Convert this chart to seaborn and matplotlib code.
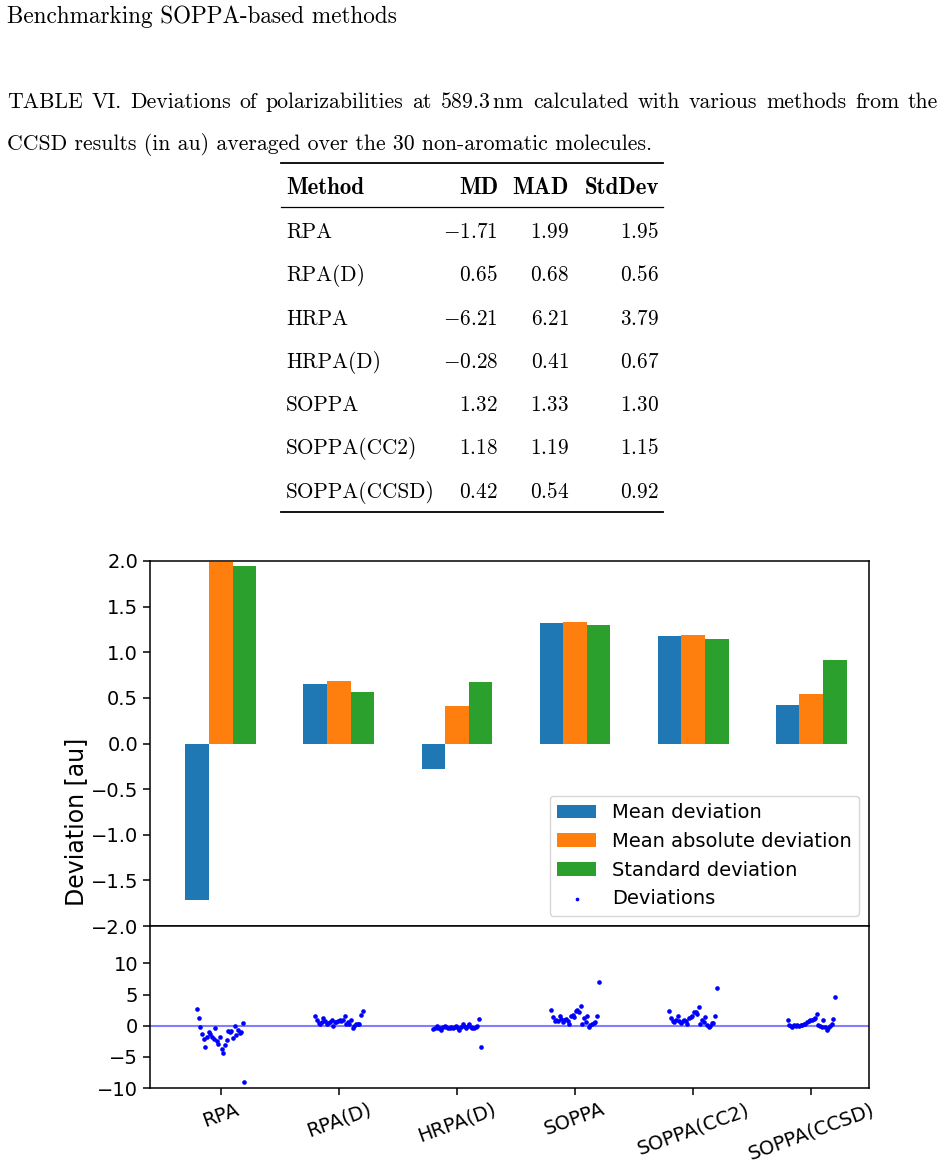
import matplotlib
matplotlib.use("Agg")
import matplotlib.pyplot as plt
from matplotlib.lines import Line2D
import numpy as np
import pandas as pd
import seaborn as sns

# table values (au)
table_methods = ["RPA", "RPA(D)", "HRPA", "HRPA(D)", "SOPPA", "SOPPA(CC2)", "SOPPA(CCSD)"]
md = [-1.71, 0.65, -6.21, -0.28, 1.32, 1.18, 0.42]
mad = [1.99, 0.68, 6.21, 0.41, 1.33, 1.19, 0.54]
std = [1.95, 0.56, 3.79, 0.67, 1.30, 1.15, 0.92]

# methods shown in the chart (HRPA left out)
methods = ["RPA", "RPA(D)", "HRPA(D)", "SOPPA", "SOPPA(CC2)", "SOPPA(CCSD)"]
stat_names = ["Mean deviation", "Mean absolute deviation", "Standard deviation"]

# per-molecule deviations
dev_rpa = [2.63, 1.18, -0.27, -1.40, -2.15, -3.44, -1.88, -0.97, -1.40, -1.88,
           -2.10, -0.43, -2.53, -3.01, -1.88, -3.76, -4.46, -3.17, -2.37, -0.81,
           -0.97, -0.81, -2.04, -0.11, -1.56, -0.70, -1.18, -1.08, 0.43, -8.98]
dev_rpad = [1.61, 0.86, 0.43, 0.32, 0.54, 1.29, 0.70, 0.32, 0.43, 0.65,
            0.86, 0.00, 0.65, 0.54, 0.81, 0.91, 0.81, 0.97, 1.51, 0.32,
            0.65, 0.32, 0.97, -0.32, -0.11, 0.32, 0.22, 0.22, 1.72, 2.37]
dev_hrpad = [-0.54, -0.32, -0.11, -0.32, -0.43, -0.65, -0.22, 0.00, -0.22, -0.32,
             -0.32, -0.22, -0.43, -0.22, -0.11, -0.43, -0.75, -0.22, 0.32, -0.11,
             -0.43, 0.00, 0.32, -0.22, -0.43, -0.43, -0.22, 0.00, 1.08, -3.39]
dev_soppa = [2.58, 1.40, 0.70, 0.97, 0.81, 1.61, 1.08, 0.54, 0.86, 1.08,
             0.75, 0.32, 1.51, 1.72, 1.40, 2.31, 2.47, 2.15, 3.12, 0.32,
             1.18, 0.65, 1.61, -0.22, 0.11, 0.22, 0.43, 0.54, 1.61, 7.04]
dev_cc2 = [2.42, 1.18, 0.75, 0.54, 0.97, 1.61, 0.75, 0.43, 0.75, 0.97,
           0.81, 0.32, 1.29, 1.40, 1.51, 2.15, 2.26, 1.94, 3.01, 0.32,
           0.86, 0.54, 1.40, 0.11, -0.22, 0.00, 0.43, 0.43, 1.61, 6.02]
dev_ccsd = [0.86, 0.16, 0.00, -0.22, 0.11, -0.11, 0.16, 0.00, 0.11, 0.11,
            0.22, 0.32, 0.54, 0.75, 0.86, 0.97, 1.08, 1.18, 1.88, 0.16,
            0.00, -0.22, 0.97, -0.22, -0.65, -0.32, 0.00, 0.32, 1.08, 4.62]
deviations = [dev_rpa, dev_rpad, dev_hrpad, dev_soppa, dev_cc2, dev_ccsd]

W, H = 944, 1169
fig = plt.figure(figsize=(W / 100, H / 100), dpi=100)
plt.rcParams['mathtext.fontset'] = 'cm'

def fx(px):
    return px / W

def fy(py):
    return 1 - py / H

serif = 'cmr10'
bold = 'cmb10'
renderer = fig.canvas.get_renderer()

def justified(line, x0, x1, yb, size):
    # spread the words over the full text width, like the typeset page
    words = line.split(" ")
    objs = [fig.text(0, fy(yb), w, family=serif, size=size, va='baseline') for w in words]
    widths = [o.get_window_extent(renderer).width for o in objs]
    gap = (x1 - x0 - sum(widths)) / (len(words) - 1)
    x = x0
    for o, w in zip(objs, widths):
        o.set_x(fx(x))
        x += w + gap

# page header + caption
fs_cap = 15.7
fig.text(fx(7), fy(23), "Benchmarking SOPPA-based methods", family=serif, size=16.7, va='baseline')
justified("TABLE VI. Deviations of polarizabilities at 589.3$\\,$nm calculated with various methods from the",
          7, 938, 108, fs_cap)
fig.text(fx(7), fy(150), "CCSD results (in au) averaged over the 30 non-aromatic molecules.",
         family=serif, size=fs_cap, va='baseline')

# table
for y, lw in [(163, 1.3), (207, 0.9), (512, 1.3)]:
    fig.add_artist(Line2D([fx(281), fx(663)], [fy(y), fy(y)], transform=fig.transFigure, color='black', lw=lw))

fs_tab = 15.3
col_x = [498, 569, 659]
fig.text(fx(286), fy(194), "Method", family=bold, size=16.5, va='baseline')
for cx, head in zip(col_x, ["MD", "MAD", "StdDev"]):
    fig.text(fx(cx), fy(194), head, family=bold, size=16.5, va='baseline', ha='right')

for i, name in enumerate(table_methods):
    yb = 238 + i * 43.3
    fig.text(fx(286), fy(yb), name, family=serif, size=fs_tab, va='baseline')
    for cx, v in zip(col_x, [md[i], mad[i], std[i]]):
        fig.text(fx(cx), fy(yb), f"${v:.2f}$", size=fs_tab, va='baseline', ha='right')

# chart
ax_top = fig.add_axes([fx(150), fy(926), fx(869) - fx(150), fy(561) - fy(926)])
ax_bot = fig.add_axes([fx(150), fy(1088), fx(869) - fx(150), fy(926) - fy(1088)])

keep = [table_methods.index(m) for m in methods]
bars = pd.DataFrame({
    "Method": methods * 3,
    "Stat": sum([[s] * len(methods) for s in stat_names], []),
    "Value": [md[k] for k in keep] + [mad[k] for k in keep] + [std[k] for k in keep],
})
sns.barplot(data=bars, x="Method", y="Value", hue="Stat", order=methods, hue_order=stat_names,
            palette=["#1f77b4", "#ff7f0e", "#2ca02c"], saturation=1, width=0.6,
            errorbar=None, ax=ax_top)
leg = ax_top.get_legend()
handles = list(leg.legend_handles)
labels = [t.get_text() for t in leg.get_texts()]
leg.remove()

pts = []
for i, (m, vals) in enumerate(zip(methods, deviations)):
    offs = np.linspace(-0.2, 0.2, len(vals))
    for o, v in zip(offs, vals):
        pts.append({"x": i + o, "dev": v})
pts = pd.DataFrame(pts)
sns.scatterplot(data=pts, x="x", y="dev", color="blue", s=11, linewidth=0,
                label="Deviations", ax=ax_bot)
if ax_bot.get_legend() is not None:
    ax_bot.get_legend().remove()
h2, l2 = ax_bot.get_legend_handles_labels()
ax_bot.axhline(0, color="blue", alpha=0.5, lw=1.5, zorder=0)

ax_top.legend(handles + h2, labels + l2, loc="lower right", fontsize=14, markerscale=0.8)

xlim = (-0.6, 5.49)
ax_top.set_xlim(xlim)
ax_bot.set_xlim(xlim)
ax_top.set_ylim(-2, 2)
ax_bot.set_ylim(-10, 16)
ax_bot.set_yticks([-10, -5, 0, 5, 10])
ax_top.set_xticks([])
ax_bot.set_xticks(range(len(methods)))
ax_bot.set_xticklabels(methods, rotation=20, ha="center")
for ax in (ax_top, ax_bot):
    ax.set_xlabel("")
    ax.set_ylabel("")
    ax.tick_params(labelsize=14, length=5, width=1.1)
    for sp in ax.spines.values():
        sp.set_linewidth(1.1)

fig.text(fx(76), fy(822), "Deviation [au]", rotation=90, size=17, ha="center", va="center")

fig.savefig("out.png", dpi=100)
